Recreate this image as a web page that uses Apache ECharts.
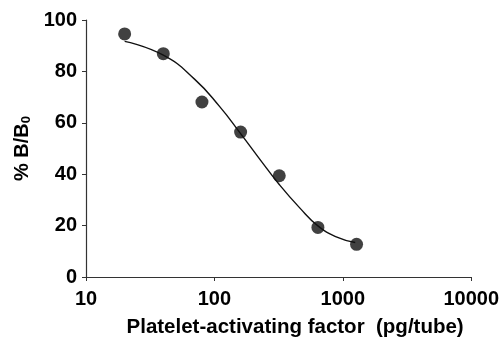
<!DOCTYPE html>
<html><head><meta charset="utf-8">
<script src="https://cdn.jsdelivr.net/npm/echarts@6/dist/echarts.min.js"></script>
<style>html,body{margin:0;padding:0;background:#fff}#c{width:502px;height:343px}</style>
</head><body><div id="c"></div>
<script>
// Measured points
const doseX = [20, 40, 80, 160, 320, 640, 1280];
const bB0 = [94.6, 86.9, 68.1, 56.4, 39.4, 19.3, 12.7];
// Fitted curve
const curveX = [20, 40, 70, 110, 160, 230, 320, 460, 640, 900, 1250];
const curveY = [91.7, 86.3, 77.0, 66.3, 55.8, 45.3, 36.0, 27.0, 19.9, 15.5, 13.4];
const xTicks = [10, 100, 1000, 10000];
const yTicks = [0, 20, 40, 60, 80, 100];

const font = 'Liberation Sans, Arial, sans-serif';
const ink = '#000';
const chart = echarts.init(document.getElementById('c'), null, {renderer: 'canvas'});
chart.setOption({
  animation: false,
  grid: {left: 86, right: 29, top: 20, bottom: 64},
  xAxis: {
    type: 'log', logBase: 10, min: xTicks[0], max: xTicks[xTicks.length - 1],
    name: 'Platelet-activating factor  (pg/tube)',
    nameLocation: 'middle', nameGap: 40,
    nameTextStyle: {fontFamily: font, fontWeight: 'bold', fontSize: 20.5, color: ink, padding: [0, 0, 0, 33]},
    axisLine: {lineStyle: {color: '#333', width: 1.2}},
    axisTick: {show: true, length: 4, lineStyle: {color: '#333'}},
    minorTick: {show: false},
    splitLine: {show: false},
    axisLabel: {fontFamily: font, fontWeight: 'bold', fontSize: 20, color: ink, margin: 12,
      formatter: v => String(Math.round(v))}
  },
  yAxis: {
    type: 'value', min: yTicks[0], max: yTicks[yTicks.length - 1], interval: 20,
    name: '{a|% B/B}{s|0}',
    nameLocation: 'middle', nameGap: 52, nameRotate: 90,
    nameTextStyle: {rich: {
      a: {fontFamily: font, fontWeight: 'bold', fontSize: 20, color: ink},
      s: {fontFamily: font, fontWeight: 'bold', fontSize: 13, color: ink, verticalAlign: 'bottom', padding: [8, 0, 0, 0]}
    }},
    axisLine: {show: true, lineStyle: {color: '#333', width: 1.2}},
    axisTick: {show: true, length: 4, lineStyle: {color: '#333'}},
    splitLine: {show: false},
    axisLabel: {fontFamily: font, fontWeight: 'bold', fontSize: 20, color: ink, margin: 9}
  },
  series: [
    {type: 'line', data: curveX.map((x, i) => [x, curveY[i]]), smooth: 0.5, showSymbol: false,
     lineStyle: {color: '#111', width: 1.4}, z: 2},
    {type: 'scatter', data: doseX.map((x, i) => [x, bB0[i]]), symbolSize: 13,
     itemStyle: {color: '#111'}, z: 3}
  ]
});
</script></body></html>
